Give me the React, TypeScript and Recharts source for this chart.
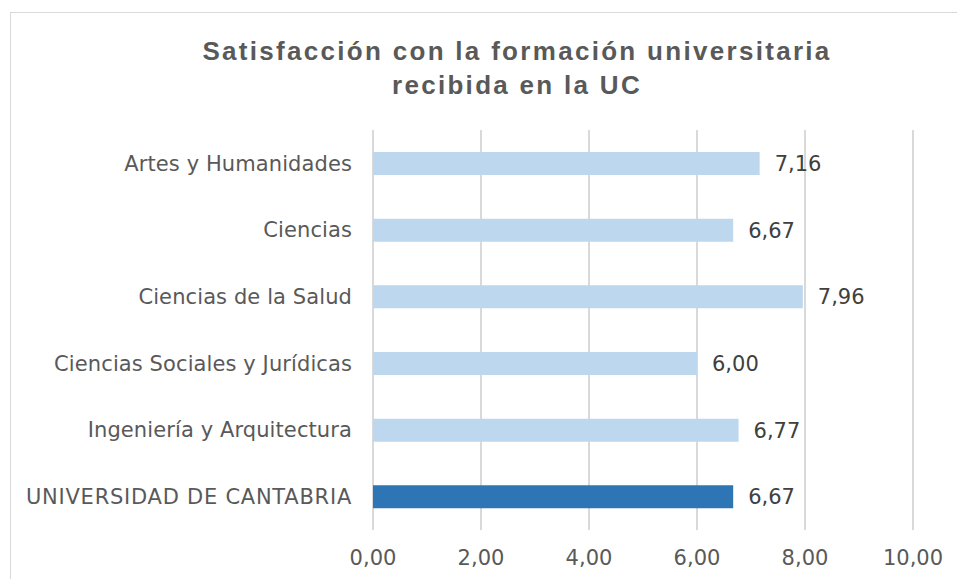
import { BarChart, Bar, XAxis, YAxis, CartesianGrid, Cell, LabelList } from 'recharts'

const categories = [
  'Artes y Humanidades',
  'Ciencias',
  'Ciencias de la Salud',
  'Ciencias Sociales y Jurídicas',
  'Ingeniería y Arquitectura',
  'UNIVERSIDAD DE CANTABRIA',
]
const scores = [7.16, 6.67, 7.96, 6.0, 6.77, 6.67]
const xTicks = [0, 2, 4, 6, 8, 10]
const titleLines = ['Satisfacción con la formación universitaria', 'recibida en la UC']

const data = categories.map((name, i) => ({ name, value: scores[i] }))

const fmt = (v: number) => v.toFixed(2).replace('.', ',')

// uppercase glyphs in the original font run a bit wider than DejaVu
function CategoryTick(props: any) {
  const { x, y, payload } = props
  const upper = payload.value === payload.value.toUpperCase()
  return (
    <text
      x={x}
      y={y}
      dy="0.355em"
      textAnchor="end"
      fill="#595959"
      fontSize={21}
      fontFamily="DejaVu Sans"
      letterSpacing={upper ? 0.75 : 0.1}
    >
      {payload.value}
    </text>
  )
}

export default function App() {
  return (
    <div
      style={{
        position: 'absolute',
        left: 0,
        top: 0,
        width: 957,
        height: 579,
        overflow: 'hidden',
        background: '#fff',
        fontFamily: 'DejaVu Sans, sans-serif',
      }}
    >
      <div
        style={{
          position: 'absolute',
          left: 10,
          top: 12,
          width: 1100,
          height: 700,
          border: '1px solid #D9D9D9',
        }}
      />
      <div
        style={{
          position: 'absolute',
          left: 17,
          width: 1000,
          top: 34,
          textAlign: 'center',
          fontFamily: 'Liberation Sans, Arial, sans-serif',
          fontWeight: 'bold',
          fontSize: 26,
          letterSpacing: 2.3,
          lineHeight: '34px',
          color: '#595959',
        }}
      >
        {titleLines.map((t) => (
          <div key={t}>{t}</div>
        ))}
      </div>
      <BarChart
        width={957}
        height={579}
        data={data}
        layout="vertical"
        margin={{ top: 130, right: 44, bottom: 9, left: 0 }}
        style={{ position: 'absolute', left: 0, top: 0 }}
      >
        <CartesianGrid horizontal={false} stroke="#D9D9D9" strokeWidth={2} />
        <XAxis
          type="number"
          domain={[0, 10]}
          ticks={xTicks}
          tickFormatter={fmt}
          axisLine={false}
          tickLine={false}
          tickSize={0}
          tickMargin={20}
          height={40}
          tick={{ fill: '#595959', fontSize: 21, fontFamily: 'DejaVu Sans' }}
        />
        <YAxis
          type="category"
          dataKey="name"
          width={373}
          axisLine={false}
          tickLine={false}
          tickSize={0}
          tickMargin={21}
          interval={0}
          tick={<CategoryTick />}
        />
        <Bar dataKey="value" barSize={23} isAnimationActive={false}>
          {data.map((d, i) => (
            <Cell key={d.name} fill={i === data.length - 1 ? '#2E75B6' : '#BDD7EE'} />
          ))}
          <LabelList
            dataKey="value"
            position="right"
            offset={15}
            formatter={(v: any) => fmt(Number(v))}
            style={{ fill: '#404040', fontSize: 21, fontFamily: 'DejaVu Sans' }}
          />
        </Bar>
      </BarChart>
    </div>
  )
}
